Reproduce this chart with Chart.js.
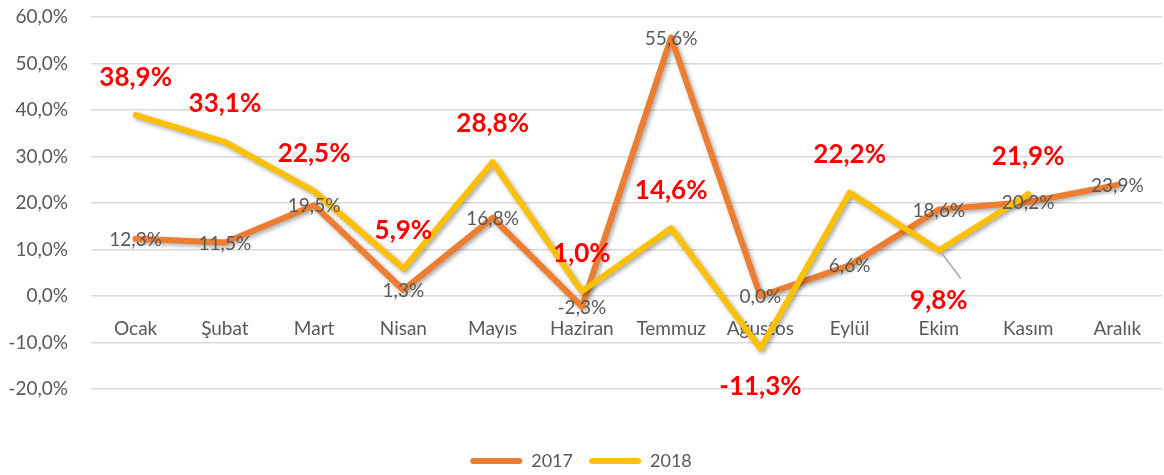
<!DOCTYPE html>
<html>
<head>
<meta charset="utf-8">
<script src="https://cdn.jsdelivr.net/npm/chart.js@4/dist/chart.umd.min.js"></script>
<style>
  html, body { margin: 0; padding: 0; background: #fff; }
  #wrap { width: 1164px; height: 475px; }
</style>
</head>
<body>
<div id="wrap"><canvas id="growthChart"></canvas></div>
<script>
const months = ['Ocak', 'Şubat', 'Mart', 'Nisan', 'Mayıs', 'Haziran', 'Temmuz', 'Ağustos', 'Eylül', 'Ekim', 'Kasım', 'Aralık'];
const values2017 = [12.3, 11.5, 19.5, 1.3, 16.8, -2.3, 55.6, 0.0, 6.6, 18.6, 20.2, 23.9];
const values2018 = [38.9, 33.1, 22.5, 5.9, 28.8, 1.0, 14.6, -11.3, 22.2, 9.8, 21.9, null];
const yTicks = [-20, -10, 0, 10, 20, 30, 40, 50, 60];

const FONT = 'Lato, "Liberation Sans", sans-serif';
const fmt = v => v.toFixed(1).replace('.', ',') + '%';

// shadow under the lines, like the excel original
const shadowPlugin = {
    id: 'lineShadow',
    beforeDatasetDraw(chart) {
        const c = chart.ctx;
        c.save();
        c.shadowColor = 'rgba(0,0,0,0.35)';
        c.shadowBlur = 4;
        c.shadowOffsetX = 2;
        c.shadowOffsetY = 2;
    },
    afterDatasetDraw(chart) {
        chart.ctx.restore();
    }
};

// value labels: grey centred for 2017, red bold above/below for 2018
const labelPlugin = {
    id: 'valueLabels',
    afterDatasetsDraw(chart) {
        const c = chart.ctx;
        c.save();
        c.textAlign = 'center';
        c.textBaseline = 'middle';

        const m17 = chart.getDatasetMeta(0);
        c.font = '19px ' + FONT;
        c.fillStyle = '#595959';
        m17.data.forEach((pt, i) => {
            c.fillText(fmt(values2017[i]), pt.x, pt.y + 1);
        });

        const m18 = chart.getDatasetMeta(1);
        c.font = 'bold 26px ' + FONT;
        m18.data.forEach((pt, i) => {
            const v = values2018[i];
            if (v === null) return;
            let y = pt.y - 38;
            if (v < 0) y = pt.y + 38;
            if (months[i] === 'Ekim') {
                y = pt.y + 50;
                c.strokeStyle = '#a6a6a6';
                c.lineWidth = 1.5;
                c.beginPath();
                c.moveTo(pt.x + 3, pt.y + 3);
                c.lineTo(pt.x + 22, pt.y + 28);
                c.stroke();
            }
            c.fillStyle = '#ff0000';
            c.fillText(fmt(v), pt.x, y);
        });
        c.restore();
    }
};

new Chart(document.getElementById('growthChart'), {
    type: 'line',
    data: {
        labels: months,
        datasets: [{
            label: '2017',
            data: values2017,
            borderColor: '#ED7D31',
            backgroundColor: '#ED7D31',
            borderWidth: 6,
            order: 1
        }, {
            label: '2018',
            data: values2018,
            borderColor: '#FFC000',
            backgroundColor: '#FFC000',
            borderWidth: 6,
            order: 0
        }]
    },
    options: {
        responsive: true,
        maintainAspectRatio: false,
        animation: false,
        elements: {
            point: { radius: 0, hoverRadius: 0 },
            line: { tension: 0, borderCapStyle: 'round', borderJoinStyle: 'round' }
        },
        layout: { padding: { top: 17, right: 2, bottom: -5, left: 0 } },
        scales: {
            x: {
                position: { y: 0 },
                offset: true,
                grid: { display: false, drawTicks: false },
                border: { display: false },
                ticks: {
                    padding: 21,
                    color: '#595959',
                    font: { family: FONT, size: 19 },
                    maxRotation: 0,
                    autoSkip: false
                }
            },
            y: {
                min: -20,
                max: 60,
                afterFit(scale) { scale.width = 91; },
                afterBuildTicks(scale) { scale.ticks = yTicks.map(v => ({ value: v })); },
                grid: { color: '#d9d9d9', lineWidth: 1.5, drawTicks: true, tickLength: 23, tickColor: 'rgba(0,0,0,0)' },
                border: { display: false },
                ticks: {
                    padding: 0,
                    color: '#595959',
                    font: { family: FONT, size: 19 },
                    callback: v => fmt(v)
                }
            }
        },
        plugins: {
            tooltip: { enabled: false },
            legend: {
                position: 'bottom',
                title: { display: true, text: ' ', font: { size: 10 }, padding: { top: 35, bottom: 0 } },
                labels: {
                    boxWidth: 52,
                    boxHeight: 6,
                    useBorderRadius: true,
                    borderRadius: 3,
                    color: '#595959',
                    font: { family: FONT, size: 18 },
                    padding: 16,
                    sort: (a, b) => a.datasetIndex - b.datasetIndex,
                    generateLabels(chart) {
                        return Chart.defaults.plugins.legend.labels.generateLabels(chart)
                            .map(item => Object.assign(item, { lineWidth: 0 }));
                    }
                }
            }
        }
    },
    plugins: [shadowPlugin, labelPlugin]
});
</script>
</body>
</html>
